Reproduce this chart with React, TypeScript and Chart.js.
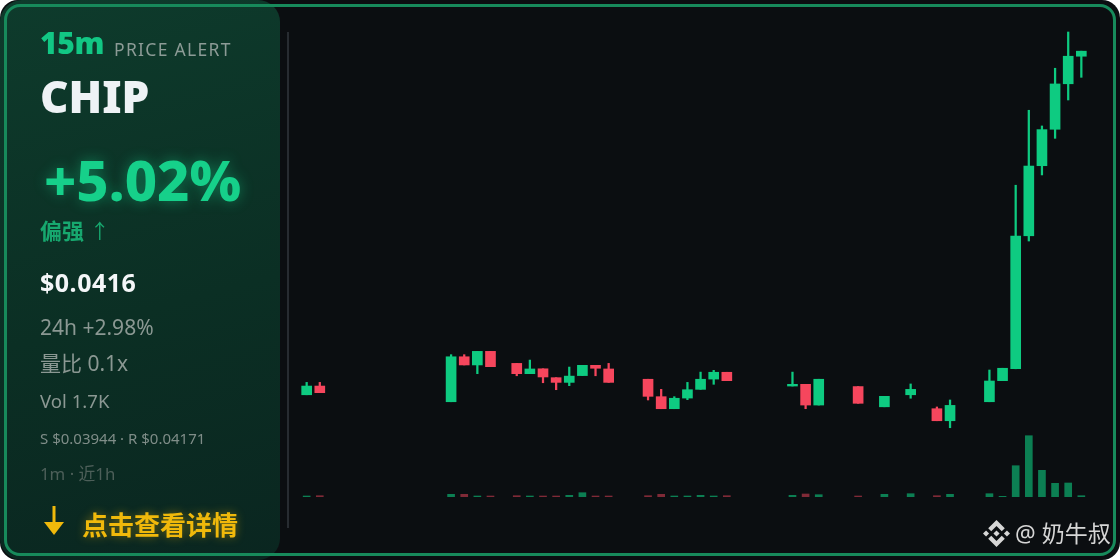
import React, { useEffect, useRef } from "react";
import { Chart, registerables } from "chart.js";

Chart.register(...registerables);

// 1-minute candles over the last hour (null = no trade in that minute)
const times = [
  "10:00", "10:01", "10:02", "10:03", "10:04", "10:05", "10:06", "10:07", "10:08", "10:09",
  "10:10", "10:11", "10:12", "10:13", "10:14", "10:15", "10:16", "10:17", "10:18", "10:19",
  "10:20", "10:21", "10:22", "10:23", "10:24", "10:25", "10:26", "10:27", "10:28", "10:29",
  "10:30", "10:31", "10:32", "10:33", "10:34", "10:35", "10:36", "10:37", "10:38", "10:39",
  "10:40", "10:41", "10:42", "10:43", "10:44", "10:45", "10:46", "10:47", "10:48", "10:49",
  "10:50", "10:51", "10:52", "10:53", "10:54", "10:55", "10:56", "10:57", "10:58", "10:59",
];

const N = null;

const opens: (number | null)[] = [
  0.039629, 0.039679, N, N, N, N, N, N, N, N,
  N, 0.039589, 0.039847, 0.0398, 0.039878, N, 0.039809, 0.03975, 0.039778, 0.039727,
  0.0397, 0.039739, 0.039798, 0.039777, N, N, 0.039718, 0.039618, 0.039549, 0.03961,
  0.03966, 0.039719, 0.039758, N, N, N, N, 0.039679, 0.039689, 0.03957,
  N, N, 0.039676, N, 0.03956, N, 0.039629, N, 0.039549, 0.03948,
  N, N, 0.039589, 0.03971, 0.039778, 0.040541, 0.040943, 0.041152, 0.041413, 0.041571,
];

const highs: (number | null)[] = [
  0.0397, 0.0397, N, N, N, N, N, N, N, N,
  N, 0.039859, 0.039859, 0.039878, 0.039878, N, 0.039809, 0.039828, 0.039778, 0.039727,
  0.039788, 0.039798, 0.039798, 0.039809, N, N, 0.039718, 0.03966, 0.039618, 0.0397,
  0.039759, 0.039769, 0.039758, N, N, N, N, 0.039759, 0.039689, 0.039718,
  N, N, 0.039676, N, 0.03962, N, 0.039691, N, 0.039559, 0.039599,
  N, N, 0.039771, 0.039781, 0.040831, 0.041261, 0.041171, 0.041502, 0.04171, 0.0416,
];

const lows: (number | null)[] = [
  0.039629, 0.039641, N, N, N, N, N, N, N, N,
  N, 0.039589, 0.0398, 0.03975, 0.03979, N, 0.039738, 0.03975, 0.039698, 0.039658,
  0.039681, 0.039739, 0.039738, 0.0397, N, N, 0.039599, 0.039549, 0.039549, 0.039601,
  0.03966, 0.039689, 0.03971, N, N, N, N, 0.039679, 0.039549, 0.03957,
  N, N, 0.03958, N, 0.03956, N, 0.039609, N, 0.03948, 0.03944,
  N, N, 0.039589, 0.03971, 0.039778, 0.040511, 0.04089, 0.0411, 0.04132, 0.04145,
];

const closes: (number | null)[] = [
  0.039679, 0.039641, N, N, N, N, N, N, N, N,
  N, 0.039847, 0.0398, 0.039878, 0.03979, N, 0.03975, 0.039777, 0.039731, 0.0397,
  0.039736, 0.039798, 0.039781, 0.0397, N, N, 0.03962, 0.039549, 0.039609, 0.039658,
  0.039718, 0.039758, 0.03971, N, N, N, N, 0.039689, 0.03957, 0.039718,
  N, N, 0.03958, N, 0.03962, N, 0.03966, N, 0.03948, 0.039568,
  N, N, 0.039708, 0.039781, 0.04054, 0.040941, 0.04115, 0.041412, 0.041571, 0.0416,
];

const volumes: (number | null)[] = [
  10, 13, N, N, N, N, N, N, N, N,
  N, 27, 27, 10, 10, N, 13, 10, 10, 10,
  17, 43, 10, 10, N, N, 13, 27, 10, 10,
  17, 10, 13, N, N, N, N, 17, 30, 23,
  N, N, 10, N, 27, N, 33, N, 13, 27,
  N, N, 33, 7, 313, 613, 267, 137, 140, 13,
];

const UP = "#0ecb81";
const DOWN = "#f6465d";
const UP_VOL = "rgba(14,203,129,0.6)";
const DOWN_VOL = "rgba(246,70,93,0.5)";

const FONT = "'Noto Sans', 'Open Sans', 'Noto Sans CJK SC', sans-serif";

function BinanceLogo() {
  return (
    <svg width="27" height="27" viewBox="0 0 126.61 126.61" style={{ display: "block" }}>
      <g fill="#d6d6d6">
        <path d="M38.73,53.2 63.31,28.63 87.9,53.22 102.2,38.92 63.31,0 24.43,38.9z" />
        <path d="M0,63.31 14.3,49.01 28.6,63.31 14.3,77.61z" />
        <path d="M38.73,73.41 63.31,97.99 87.9,73.4 102.2,87.69 63.31,126.61 24.43,87.71z" />
        <path d="M98,63.31 112.3,49.01 126.6,63.31 112.3,77.61z" />
        <path d="M77.83,63.3 63.31,48.78 48.8,63.28 63.31,77.8z" />
      </g>
    </svg>
  );
}

export default function App() {
  const ref = useRef<HTMLCanvasElement | null>(null);

  useEffect(() => {
    document.body.style.margin = "0";
    const up = closes.map((c, i) => c !== null && opens[i] !== null && (c as number) >= (opens[i] as number));
    const bodies = opens.map((o, i) => (o === null ? null : [o, closes[i] as number]));
    const wicks = lows.map((l, i) => (l === null ? null : [l, highs[i] as number]));
    const hi = Math.max(...(highs.filter((v) => v !== null) as number[]));
    const lo = Math.min(...(lows.filter((v) => v !== null) as number[]));
    const range = hi - lo;
    const volMax = Math.max(...(volumes.filter((v) => v !== null) as number[])) / 0.1318;

    const chart = new Chart(ref.current as HTMLCanvasElement, {
      type: "bar",
      data: {
        labels: times,
        datasets: [
          {
            label: "body",
            data: bodies as any,
            backgroundColor: up.map((u) => (u ? UP : DOWN)),
            borderWidth: 0,
            barThickness: 10,
            minBarLength: 1.5,
            grouped: false,
            yAxisID: "y",
            order: 1,
            clip: false as any,
          },
          {
            label: "wick",
            data: wicks as any,
            backgroundColor: up.map((u) => (u ? UP : DOWN)),
            borderWidth: 0,
            barThickness: 1.6,
            grouped: false,
            yAxisID: "y",
            order: 2,
            clip: false as any,
          },
          {
            label: "volume",
            data: volumes as any,
            backgroundColor: up.map((u) => (u ? UP_VOL : DOWN_VOL)),
            borderWidth: 0,
            barThickness: 7,
            grouped: false,
            yAxisID: "yv",
            order: 3,
          },
        ],
      },
      options: {
        animation: false,
        responsive: false,
        maintainAspectRatio: false,
        events: [],
        layout: { padding: { left: 300.1, right: 32.1, top: 32, bottom: 63 } },
        plugins: { legend: { display: false }, tooltip: { enabled: false } },
        scales: {
          x: { display: false, offset: true, grid: { display: false } },
          y: { display: false, min: lo - range * 0.1751, max: hi },
          yv: { display: false, min: 0, max: volMax },
        },
      },
    });
    return () => chart.destroy();
  }, []);

  const txt = (extra: React.CSSProperties): React.CSSProperties => ({
    position: "absolute",
    left: 40,
    lineHeight: 1,
    whiteSpace: "nowrap",
    fontFamily: FONT,
    ...extra,
  });

  return (
    <div
      style={{
        position: "fixed",
        left: 0,
        top: 0,
        width: 1120,
        height: 560,
        borderRadius: 18,
        overflow: "hidden",
        background: "#0b0e11",
        fontFamily: FONT,
      }}
    >
      <div
        style={{
          position: "absolute",
          left: 0,
          top: 0,
          width: 280,
          height: 560,
          borderRadius: 22,
          background: "linear-gradient(165deg, #0e3b2c 0%, #0b2f24 55%, #0a2620 100%)",
        }}
      />
      <canvas
        ref={ref}
        width={1120}
        height={560}
        style={{ position: "absolute", left: 0, top: 0, width: 1120, height: 560 }}
      />
      <div style={{ position: "absolute", left: 287, top: 32, width: 2, height: 496, background: "#272c31" }} />

      <div style={txt({ top: 28, fontSize: 30, fontWeight: 900, color: "#12c784", letterSpacing: -0.3 })}>15m</div>
      <div style={txt({ left: 114, top: 40.5, fontSize: 17.5, color: "#8c9b96", letterSpacing: 1.3 })}>PRICE ALERT</div>
      <div style={txt({ top: 73.6, fontSize: 44, fontWeight: 900, color: "#eef2f5" })}>CHIP</div>
      <div
        style={txt({
          left: 44,
          top: 151,
          fontSize: 56,
          fontWeight: 800,
          color: "#16d08a",
          textShadow: "0 0 14px rgba(22,208,138,0.45)",
        })}
      >
        +5.02%
      </div>
      <div style={txt({ top: 219, fontSize: 22, fontWeight: 700, color: "#17a86f" })}>
        偏强 <span style={{ fontWeight: 400, fontSize: 20 }}>↑</span>
      </div>
      <div style={txt({ top: 269.5, fontSize: 25, fontWeight: 700, color: "#f4f6f8", letterSpacing: 0.5 })}>$0.0416</div>
      <div style={txt({ top: 317, fontSize: 21, color: "#8b9893" })}>24h +2.98%</div>
      <div style={txt({ top: 353, fontSize: 21, color: "#8b9893" })}>量比 0.1x</div>
      <div style={txt({ top: 392, fontSize: 18.6, color: "#8b9893" })}>Vol 1.7K</div>
      <div style={txt({ top: 431, fontSize: 15, color: "#7f8d88" })}>S $0.03944 · R $0.04171</div>
      <div style={txt({ top: 465.5, fontSize: 16.8, color: "#4d5f59" })}>1m · 近1h</div>

      <svg width="24" height="30" viewBox="0 0 24 30" style={{ position: "absolute", left: 42, top: 506 }}>
        <rect x="10.5" y="0" width="3" height="20" fill="#f0b90b" />
        <polygon points="2,16 22,16 12,29" fill="#f0b90b" />
      </svg>
      <div
        style={txt({
          left: 82,
          top: 512,
          fontSize: 26,
          fontWeight: 700,
          color: "#f0b90b",
          textShadow: "0 0 10px rgba(240,185,11,0.45)",
        })}
      >
        点击查看详情
      </div>

      <div
        style={{
          position: "absolute",
          left: 983,
          top: 520,
          display: "flex",
          alignItems: "center",
          gap: 5,
          color: "#d6d6d6",
          fontSize: 23,
          lineHeight: 1,
          fontFamily: FONT,
          whiteSpace: "nowrap",
        }}
      >
        <BinanceLogo />
        <span>@ 奶牛叔</span>
      </div>

      <div
        style={{
          position: "absolute",
          left: 4,
          top: 4,
          width: 1112,
          height: 552,
          boxSizing: "border-box",
          border: "3px solid #178a5b",
          borderRadius: 16,
          pointerEvents: "none",
        }}
      />
    </div>
  );
}
